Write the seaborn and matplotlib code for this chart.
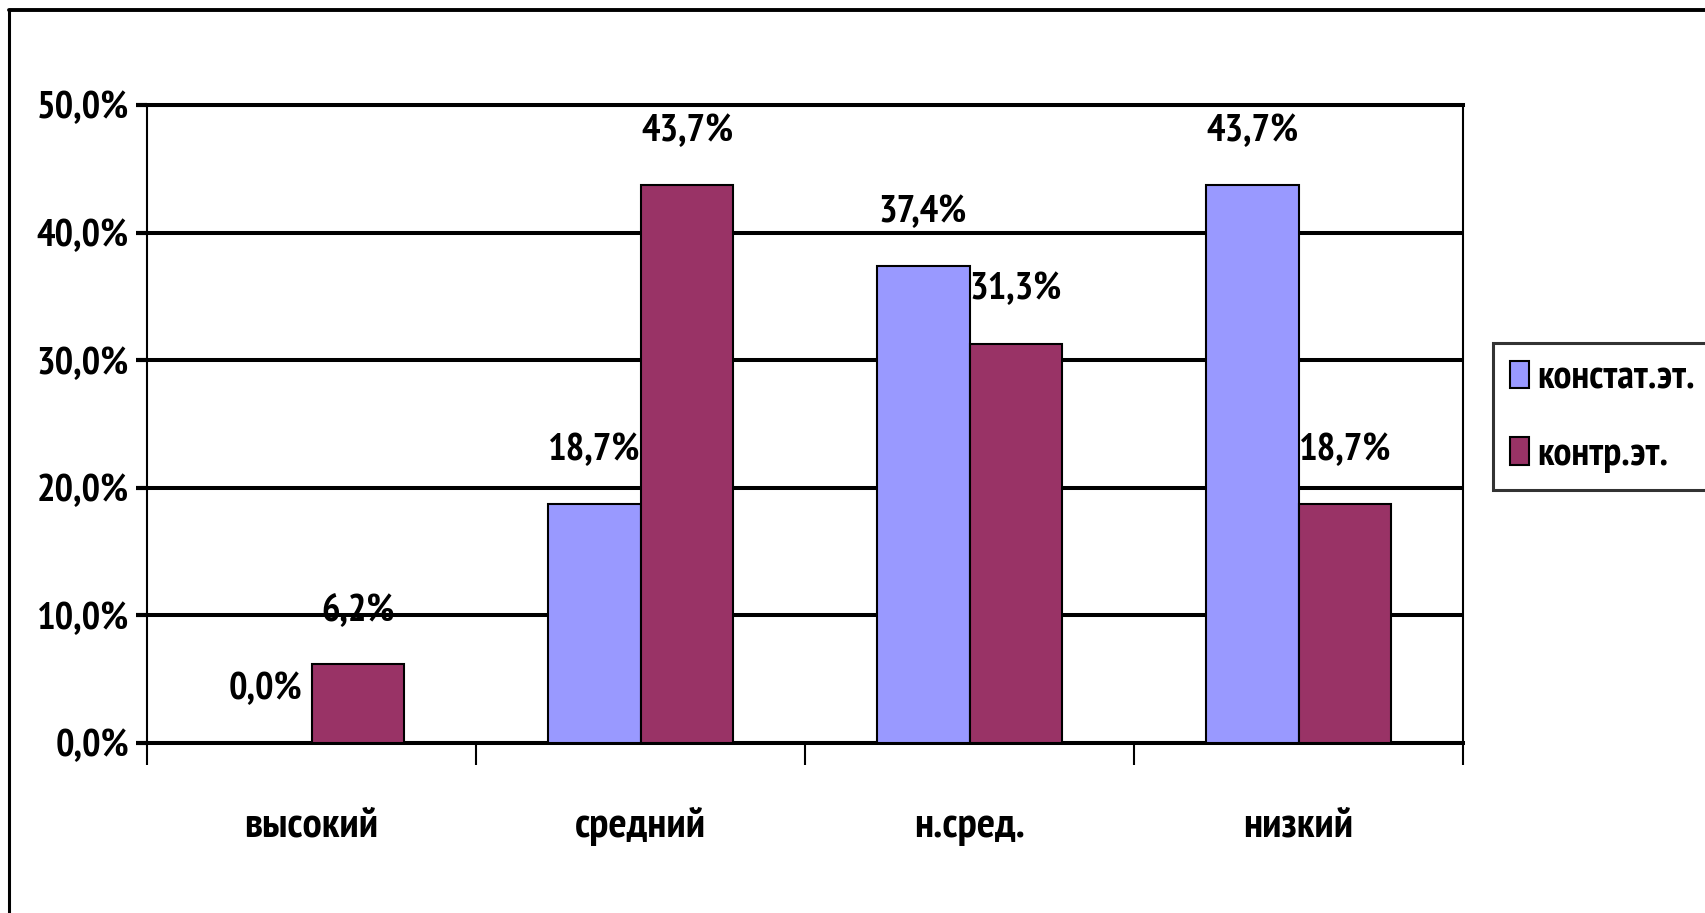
import numpy as np
import pandas as pd
import matplotlib
matplotlib.use("Agg")
import matplotlib.pyplot as plt
import seaborn as sns
from matplotlib.lines import Line2D
from matplotlib.patches import Patch

categories = ["высокий", "средний", "н.сред.", "низкий"]
series_names = ["констат.эт.", "контр.эт."]
konstat = [0.0, 18.7, 37.4, 43.7]
kontr = [6.2, 43.7, 31.3, 18.7]
y_ticks = [0, 10, 20, 30, 40, 50]
y_tick_labels = ["0,0%", "10,0%", "20,0%", "30,0%", "40,0%", "50,0%"]
colors = ["#9999FF", "#993366"]

df = pd.DataFrame({
    "cat": categories * 2,
    "val": konstat + kontr,
    "series": [series_names[0]] * len(categories) + [series_names[1]] * len(categories),
})

sns.set_style("white")
plt.rcParams["font.family"] = ["PT Sans Narrow", "Roboto Condensed", "DejaVu Sans"]
plt.rcParams["font.weight"] = "bold"
plt.rcParams["font.stretch"] = "condensed"
FS = 28
FS_X = 31
FS_LEG = 29

W, H = 1705, 913
fig = plt.figure(figsize=(W / 100, H / 100), dpi=100)
ax = fig.add_axes([147 / W, 1 - 743 / H, (1463 - 147) / W, (743 - 105) / H])

sns.barplot(data=df, x="cat", y="val", hue="series", order=categories,
            hue_order=series_names, palette=colors, saturation=1, width=0.565,
            edgecolor="black", linewidth=1.5, ax=ax, zorder=3, legend=False)

ax.set_axisbelow(True)
ax.yaxis.grid(True, color="black", linewidth=2.9)
ax.xaxis.grid(False)
ax.set_ylim(0, 50)
ax.set_xlim(-0.5, len(categories) - 0.5)
ax.set_yticks(y_ticks)
ax.set_yticklabels(y_tick_labels)
ax.set_xlabel("")
ax.set_ylabel("")

ax.set_xticks(np.arange(-0.5, len(categories), 1.0), minor=True)
ax.tick_params(axis="x", which="major", length=0, pad=46, labelsize=FS_X, bottom=True)
ax.tick_params(axis="x", which="minor", length=16, width=1.5, color="black", bottom=True)
ax.tick_params(axis="y", which="major", length=8, width=3, color="black", pad=5,
               labelsize=FS, left=True)
for lab in ax.get_xticklabels() + ax.get_yticklabels():
    lab.set_fontweight("bold")
    lab.set_color("black")

for side in ["left", "right"]:
    ax.spines[side].set_color("black")
    ax.spines[side].set_linewidth(1.5)
for side in ["top", "bottom"]:
    ax.spines[side].set_color("black")
    ax.spines[side].set_linewidth(2.9)

for cont in ax.containers:
    labels = [f"{b.get_height():.1f}".replace(".", ",") + "%" for b in cont]
    ax.bar_label(cont, labels=labels, padding=26, fontsize=FS, fontweight="bold",
                 color="black")

handles = [Patch(facecolor=c, edgecolor="black", linewidth=1.5) for c in colors]
leg = fig.legend(handles, series_names, loc="upper left",
                 bbox_to_anchor=(1493 / W, 1 - 343 / H), frameon=True,
                 fancybox=False, edgecolor="black", fontsize=FS_LEG,
                 handlelength=0.47, handleheight=0.67, handletextpad=0.2,
                 labelspacing=0.97, borderpad=0.42, borderaxespad=0)
leg.get_frame().set_linewidth(2.2)
for t in leg.get_texts():
    t.set_fontweight("bold")
    t.set_color("black")

fig.add_artist(Line2D([9 / W, 1.02], [1 - 10 / H, 1 - 10 / H], transform=fig.transFigure,
                      color="black", lw=2.8))
fig.add_artist(Line2D([9 / W, 9 / W], [1 - 10 / H, -0.02], transform=fig.transFigure,
                      color="black", lw=2.2))

fig.savefig("out.png", dpi=100)
